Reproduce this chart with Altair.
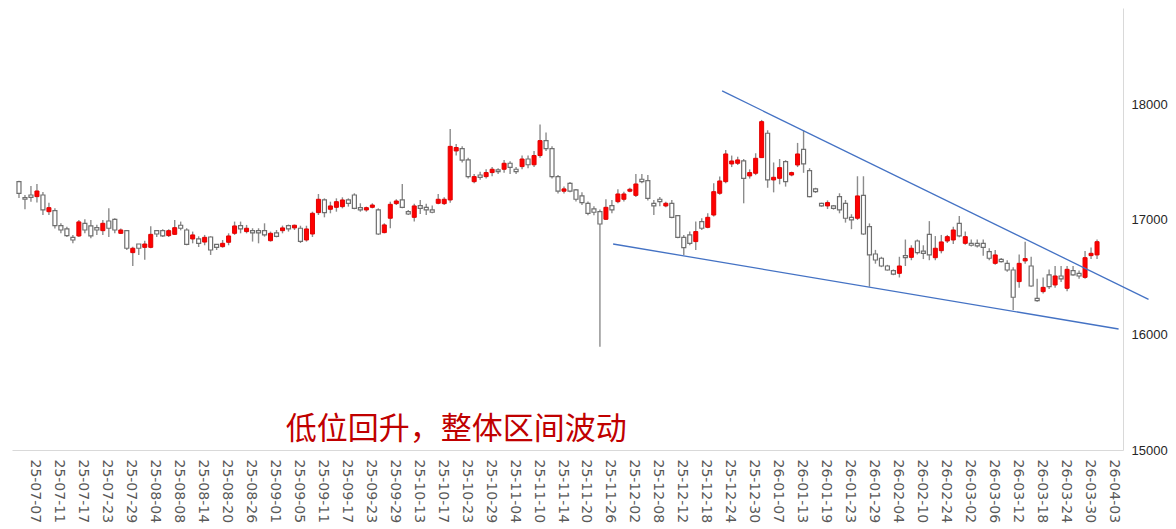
import altair as alt
import pandas as pd

# trading days (category axis)
trade_days = [
    ("25-07", [7, 8, 9, 10, 11, 14, 15, 16, 17, 18, 21, 22, 23, 24, 25, 28, 29, 30, 31]),
    ("25-08", [1, 4, 5, 6, 7, 8, 11, 12, 13, 14, 15, 18, 19, 20, 21, 22, 25, 26, 27, 28, 29]),
    ("25-09", [1, 2, 3, 4, 5, 8, 9, 10, 11, 12, 15, 16, 17, 18, 19, 22, 23, 24, 25, 26, 29, 30]),
    ("25-10", [9, 10, 13, 14, 15, 16, 17, 20, 21, 22, 23, 24, 27, 28, 29, 30, 31]),
    ("25-11", [3, 4, 5, 6, 7, 10, 11, 12, 13, 14, 17, 18, 19, 20, 21, 24, 25, 26, 27, 28]),
    ("25-12", [1, 2, 3, 4, 5, 8, 9, 10, 11, 12, 15, 16, 17, 18, 19, 22, 23, 24, 25, 26, 29, 30, 31]),
    ("26-01", [5, 6, 7, 8, 9, 12, 13, 14, 15, 16, 19, 20, 21, 22, 23, 26, 27, 28, 29, 30]),
    ("26-02", [2, 3, 4, 5, 6, 9, 10, 11, 12, 13, 24, 25, 26, 27]),
    ("26-03", [2, 3, 4, 5, 6, 9, 10, 11, 12, 13, 16, 17, 18, 19, 20, 23, 24, 25, 26, 27, 30, 31]),
    ("26-04", [1, 2, 3]),
]
dates = [f"{m}-{d:02d}" for m, days in trade_days for d in days]

opens = [17333, 17194, 17217, 17203, 17217, 17072, 17081, 16951, 16922, 16849,
         16861, 16971, 16948, 16933, 16907, 16991, 17006, 16884, 16907, 16716,
         16791, 16762, 16762, 16907, 16907, 16864, 16875, 16954, 16913, 16835,
         16835, 16808, 16852, 16788, 16768, 16806, 16884, 16951, 16899, 16907,
         16907, 16907, 16820, 16887, 16907, 16951, 16931, 16928, 16826, 16878,
         17064, 17174, 17093, 17110, 17116, 17174, 17217, 17107, 17087, 17110,
         17087, 16890, 17015, 17142, 17174, 17072, 17023, 17125, 17110, 17087,
         17145, 17142, 17174, 17600, 17620, 17522, 17333, 17391, 17377, 17412,
         17435, 17441, 17493, 17441, 17464, 17530, 17480, 17560, 17690, 17620,
         17377, 17250, 17319, 17261, 17210, 17145, 17096, 17072, 17006, 17125,
         17159, 17180, 17250, 17214, 17354, 17342, 17145, 17180, 17122, 17145,
         17038, 16849, 16870, 16812, 16986, 16936, 17043, 17232, 17333, 17487,
         17493, 17513, 17383, 17406, 17542, 17754, 17348, 17362, 17507, 17391,
         17478, 17614, 17429, 17270, 17145, 17122, 17122, 17203, 17145, 17023,
         17015, 17214, 16942, 16704, 16667, 16600, 16559, 16536, 16690, 16675,
         16817, 16730, 16875, 16672, 16733, 16817, 16826, 16971, 16797, 16797,
         16797, 16797, 16725, 16623, 16658, 16623, 16565, 16464, 16644, 16600,
         16319, 16377, 16522, 16435, 16513, 16406, 16559, 16536, 16501, 16690,
         16696]
highs = [17340, 17217, 17296, 17313, 17243, 17149, 17101, 16971, 16942, 16870,
         17000, 17006, 17000, 16959, 17000, 17101, 17014, 16925, 16913, 16768,
         16791, 16820, 16946, 16913, 16920, 16920, 17000, 16986, 16928, 16899,
         16858, 16870, 16858, 16788, 16826, 16884, 16986, 16986, 16957, 16928,
         16928, 16971, 16899, 16913, 16951, 16960, 16960, 16950, 16950, 17072,
         17226, 17188, 17159, 17188, 17197, 17188, 17232, 17145, 17116, 17145,
         17101, 16971, 17159, 17180, 17313, 17087, 17140, 17174, 17140, 17125,
         17226, 17197, 17790, 17660, 17640, 17540, 17400, 17420, 17440, 17460,
         17450, 17522, 17510, 17460, 17560, 17560, 17600, 17830, 17760, 17640,
         17390, 17290, 17330, 17270, 17240, 17160, 17120, 17090, 17180, 17174,
         17267, 17246, 17280, 17400, 17400, 17390, 17174, 17200, 17159, 17174,
         17043, 16870, 16899, 16986, 17015, 17058, 17319, 17377, 17608, 17560,
         17550, 17530, 17440, 17580, 17870, 17780, 17500, 17530, 17520, 17420,
         17670, 17777, 17450, 17280, 17150, 17170, 17130, 17232, 17174, 17050,
         17380, 17380, 16970, 16740, 16680, 16610, 16570, 16680, 16830, 16780,
         16830, 16780, 16990, 16860, 16870, 16870, 16940, 17035, 16900, 16830,
         16830, 16830, 16755, 16740, 16670, 16650, 16590, 16700, 16811, 16680,
         16490, 16500, 16570, 16600, 16600, 16600, 16600, 16560, 16730, 16760,
         16830]
lows = [17190, 17093, 17159, 17151, 17043, 17043, 16925, 16884, 16852, 16797,
        16852, 16884, 16841, 16870, 16870, 16852, 16884, 16878, 16739, 16600,
        16696, 16655, 16754, 16852, 16852, 16852, 16870, 16910, 16780, 16797,
        16765, 16780, 16696, 16739, 16759, 16780, 16870, 16884, 16884, 16812,
        16797, 16855, 16812, 16849, 16884, 16899, 16913, 16800, 16812, 16852,
        17043, 17023, 17058, 17072, 17101, 17116, 17093, 17072, 17072, 17101,
        16870, 16884, 16928, 17130, 17101, 17043, 16986, 17052, 17043, 17058,
        17136, 17130, 17150, 17560, 17500, 17360, 17320, 17350, 17360, 17380,
        17400, 17410, 17400, 17400, 17440, 17450, 17460, 17540, 17600, 17360,
        17230, 17230, 17240, 17160, 17130, 17040, 17040, 15898, 17000, 17058,
        17145, 17160, 17240, 17200, 17320, 17170, 17043, 17120, 17110, 17015,
        16840, 16696, 16780, 16740, 16913, 16928, 17030, 17220, 17320, 17460,
        17478, 17145, 17360, 17390, 17540, 17280, 17240, 17310, 17290, 17380,
        17460, 17410, 17197, 17235, 17115, 17095, 17090, 17058, 16977, 16920,
        17000, 16870, 16420, 16620, 16590, 16560, 16520, 16500, 16600, 16650,
        16700, 16660, 16650, 16650, 16710, 16800, 16790, 16850, 16785, 16770,
        16760, 16690, 16650, 16610, 16630, 16550, 16217, 16410, 16620, 16420,
        16290, 16360, 16400, 16410, 16460, 16380, 16515, 16490, 16490, 16660,
        16660]
closes = [17232, 17180, 17197, 17252, 17087, 17107, 16951, 16913, 16864, 16826,
          16983, 16913, 16861, 16913, 16971, 16928, 16913, 16913, 16754, 16754,
          16754, 16791, 16875, 16878, 16861, 16907, 16933, 16928, 16788, 16870,
          16797, 16849, 16739, 16762, 16797, 16861, 16948, 16922, 16928, 16887,
          16887, 16870, 16884, 16858, 16931, 16922, 16954, 16814, 16922, 17058,
          17180, 17064, 17122, 17159, 17174, 17145, 17101, 17087, 17107, 17130,
          16878, 16957, 17136, 17165, 17110, 17052, 17122, 17101, 17087, 17067,
          17180, 17180, 17640, 17630, 17520, 17377, 17377, 17371, 17412, 17441,
          17420, 17493, 17458, 17420, 17530, 17480, 17560, 17690, 17620, 17377,
          17250, 17270, 17250, 17180, 17150, 17058, 17067, 16965, 17110, 17087,
          17226, 17226, 17267, 17313, 17333, 17188, 17122, 17159, 17145, 17023,
          16849, 16759, 16797, 16899, 16928, 17023, 17246, 17339, 17574, 17513,
          17522, 17362, 17412, 17536, 17855, 17348, 17371, 17455, 17333, 17412,
          17574, 17487, 17203, 17246, 17122, 17151, 17101, 17087, 17015, 17000,
          17209, 16878, 16696, 16652, 16600, 16565, 16530, 16600, 16672, 16754,
          16716, 16710, 16696, 16754, 16809, 16855, 16913, 16861, 16855, 16780,
          16775, 16762, 16667, 16696, 16638, 16565, 16328, 16623, 16664, 16426,
          16298, 16414, 16420, 16513, 16487, 16571, 16522, 16513, 16672, 16710,
          16811]

# hand-drawn trend lines (category index, price)
trend_id = ["upper", "upper", "lower", "lower"]
trend_x = [117.4, 188.6, 99.2, 183.6]
trend_y = [18122, 16310, 16791, 16052]

note_text = ["低位回升，整体区间波动"]
note_x = [73]
note_y = [15174]

df = pd.DataFrame({"i": range(len(dates)), "date": dates, "open": opens,
                   "high": highs, "low": lows, "close": closes})
trend_df = pd.DataFrame({"line": trend_id, "x": trend_x, "y": trend_y})
note_df = pd.DataFrame({"t": note_text, "x": note_x, "y": note_y})

xs = alt.Scale(domain=[-0.33, 183.5], nice=False, zero=False)
ys = alt.Scale(domain=[15000, 18843], nice=False, zero=False)

label_js = "[" + ",".join(f"'{d}'" for d in dates) + "]"
xaxis = alt.Axis(values=list(range(0, len(dates), 4)), tickCount=200,
                 labelExpr=f"{label_js}[datum.value]",
                 labelAngle=90, labelOffset=16, ticks=False, grid=False,
                 domainColor="#d9d9d9", labelColor="#595959", labelFont="DejaVu Sans",
                 labelFontSize=14, labelPadding=9, title=None, labelOverlap=False)
yaxis = alt.Axis(orient="right", values=[15000, 16000, 17000, 18000], format="d",
                 ticks=False, grid=False,
                 domainColor="#d9d9d9", labelColor="#262626", labelFont="Liberation Sans",
                 labelFontSize=13, labelPadding=8, title=None)

base = alt.Chart(df)
wick = base.mark_rule(color="#8c8c8c", strokeWidth=1.4).encode(
    x=alt.X("i:Q", scale=xs, axis=xaxis),
    y=alt.Y("low:Q", scale=ys, axis=yaxis),
    y2="high:Q",
)
body_down = base.transform_filter("datum.close < datum.open").mark_bar(
    size=4, fill="white", stroke="#6e6e6e", strokeWidth=1.2
).encode(x=alt.X("i:Q", scale=xs), y=alt.Y("open:Q", scale=ys), y2="close:Q")
body_up = base.transform_filter("datum.close >= datum.open").mark_bar(
    size=4, fill="#ff0000", stroke="#e00000", strokeWidth=1
).encode(x=alt.X("i:Q", scale=xs), y=alt.Y("open:Q", scale=ys), y2="close:Q")

trend = alt.Chart(trend_df).mark_line(color="#4472c4", strokeWidth=1.3).encode(
    x=alt.X("x:Q", scale=xs), y=alt.Y("y:Q", scale=ys), detail="line:N"
)
note = alt.Chart(note_df).mark_text(
    color="#c00000", font="Noto Sans CJK SC", fontSize=31, align="center", baseline="middle"
).encode(x=alt.X("x:Q", scale=xs), y=alt.Y("y:Q", scale=ys), text="t:N")

chart = alt.layer(wick, body_down, body_up, trend, note).properties(
    width=1111, height=442,
    autosize=alt.AutoSizeParams(type="none"),
    padding={"left": 4, "top": 0, "right": 45, "bottom": 80},
    background="white",
).configure_view(stroke=None)

chart.save("out.html", embed_options={"renderer": "svg", "actions": False})
